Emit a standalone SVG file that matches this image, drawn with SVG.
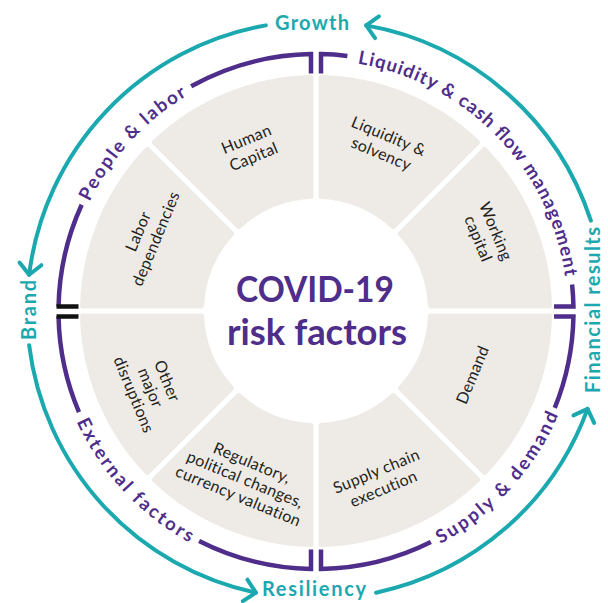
<svg xmlns="http://www.w3.org/2000/svg" xmlns:xlink="http://www.w3.org/1999/xlink" width="608" height="603" viewBox="0 0 608 603">
<style>
.seg{fill:#EEEBE7;stroke:#EEEBE7;stroke-width:5;stroke-linejoin:round}
.lbl{font-family:Lato,"Open Sans",sans-serif;font-size:16px;font-weight:400;fill:#231F20;text-anchor:middle;letter-spacing:0.3px}
.pur{fill:none;stroke:#4F2D8B;stroke-width:4.5;stroke-linecap:butt}
.blk{fill:none;stroke:#111;stroke-width:4.5}
.ptxt{font-family:Lato,"Open Sans",sans-serif;font-size:18.5px;font-weight:700;fill:#4F2D8B}
.teal{fill:none;stroke:#1BA9AF;stroke-width:4;stroke-linecap:round}
.ttxt{font-family:Lato,"Open Sans",sans-serif;font-size:20px;font-weight:700;fill:#1BA9AF;text-anchor:middle}
.ctr{font-family:Lato,"Open Sans",sans-serif;font-size:36px;font-weight:700;fill:#4F2D8B;text-anchor:middle}
</style>
<defs>
<path id="seg" d="M5,-233.45 A233.5,233.5 0 0 1 161.54,-168.61 L77.35,-84.42 A114.5,114.5 0 0 0 5,-114.39 Z"/>
<marker id="ah" viewBox="-16 -14 20 28" markerWidth="20" markerHeight="28" refX="0" refY="0" orient="auto" markerUnits="userSpaceOnUse">
<path d="M-11,-11 L0,0 L-11,11" fill="none" stroke="#1BA9AF" stroke-width="4" stroke-linecap="round" stroke-linejoin="round"/>
</marker>
<path id="tp-people" d="M79.67,225.48 A251.5,251.5 0 0 1 209.71,83.56"/>
<path id="tp-liq" d="M353.17,62.76 A251.5,251.5 0 0 1 565.63,280.85"/>
<path id="tp-supply" d="M435.63,546.28 A263.5,263.5 0 0 0 560.31,410.21"/>
<path id="tp-ext" d="M73.45,414.46 A263.5,263.5 0 0 0 196.37,546.28"/>
</defs>

<g id="liquidity-solvency">
<use xlink:href="#seg" class="seg" transform="translate(316 311) rotate(0)"/>
<text class="lbl" transform="translate(385 145) rotate(22.5)"><tspan x="0" y="-4">Liquidity &amp;</tspan><tspan x="0" y="15">solvency</tspan></text>
</g>
<g id="working-capital">
<use xlink:href="#seg" class="seg" transform="translate(316 311) rotate(45)"/>
<text class="lbl" transform="translate(487 235) rotate(67.5)"><tspan x="0" y="-4">Working</tspan><tspan x="0" y="15">capital</tspan></text>
</g>
<g id="demand">
<use xlink:href="#seg" class="seg" transform="translate(316 311) rotate(90)"/>
<text class="lbl" transform="translate(473 375) rotate(-67.5)"><tspan x="0" y="5">Demand</tspan></text>
</g>
<g id="supply-chain">
<use xlink:href="#seg" class="seg" transform="translate(316 311) rotate(135)"/>
<text class="lbl" transform="translate(380 480) rotate(-22.5)"><tspan x="0" y="-4">Supply chain</tspan><tspan x="0" y="15">execution</tspan></text>
</g>
<g id="regulatory">
<use xlink:href="#seg" class="seg" transform="translate(316 311) rotate(180)"/>
<text class="lbl" transform="translate(245 480) rotate(22.5)"><tspan x="0" y="-13">Regulatory,</tspan><tspan x="0" y="5">political changes,</tspan><tspan x="0" y="23">currency valuation</tspan></text>
</g>
<g id="other-disruptions">
<use xlink:href="#seg" class="seg" transform="translate(316 311) rotate(225)"/>
<text class="lbl" transform="translate(150 388) rotate(67.5)"><tspan x="0" y="-13">Other</tspan><tspan x="0" y="5">major</tspan><tspan x="0" y="23">disruptions</tspan></text>
</g>
<g id="labor-dependencies">
<use xlink:href="#seg" class="seg" transform="translate(316 311) rotate(270)"/>
<text class="lbl" transform="translate(147 235) rotate(-67.5)"><tspan x="0" y="-4">Labor</tspan><tspan x="0" y="15">dependencies</tspan></text>
</g>
<g id="human-capital">
<use xlink:href="#seg" class="seg" transform="translate(316 311) rotate(315)"/>
<text class="lbl" transform="translate(250 148) rotate(-22.5)"><tspan x="0" y="-4">Human</tspan><tspan x="0" y="15">Capital</tspan></text>
</g>

<g id="center">
<text class="ctr" x="315" y="302" textLength="158" lengthAdjust="spacingAndGlyphs">COVID-19</text>
<text class="ctr" x="317" y="345" textLength="180" lengthAdjust="spacingAndGlyphs">risk factors</text>
</g>

<g id="people-labor">
<path class="pur" d="M311,73.55 L311,54.05 A257.5,257.5 0 0 0 191.16,86.29"/>
<path class="pur" d="M81.69,204.72 A257.5,257.5 0 0 0 58.55,306.5"/>
<path class="blk" d="M56.5,306.5 L78.5,306.5"/>
<text class="ptxt"><textPath xlink:href="#tp-people" startOffset="50%" text-anchor="middle" textLength="146" lengthAdjust="spacing">People &amp; labor</textPath></text>
</g>
<g id="liquidity-cash-flow">
<path class="pur" d="M321,73.55 L321,54.05 A257.5,257.5 0 0 1 347.38,55.92"/>
<path class="pur" d="M572.09,284.58 A257.5,257.5 0 0 1 573.45,306.5 L554.05,306.5"/>
<text class="ptxt"><textPath xlink:href="#tp-liq" startOffset="50%" text-anchor="middle" textLength="318" lengthAdjust="spacing">Liquidity &amp; cash flow management</textPath></text>
</g>
<g id="supply-demand">
<path class="pur" d="M554.05,316.5 L573.45,316.5 A257.5,257.5 0 0 1 554.75,407.96"/>
<path class="pur" d="M430.90,541.94 A257.5,257.5 0 0 1 321,568.95 L321,549.45"/>
<text class="ptxt"><textPath xlink:href="#tp-supply" startOffset="50%" text-anchor="middle" textLength="178" lengthAdjust="spacing">Supply &amp; demand</textPath></text>
</g>
<g id="external-factors">
<path class="pur" d="M311,549.45 L311,568.95 A257.5,257.5 0 0 1 199.10,540.94"/>
<path class="pur" d="M78.97,412.11 A257.5,257.5 0 0 1 58.55,316.5"/>
<path class="blk" d="M56.5,316.5 L78.5,316.5"/>
<text class="ptxt"><textPath xlink:href="#tp-ext" startOffset="50%" text-anchor="middle" textLength="168" lengthAdjust="spacing">External factors</textPath></text>
</g>

<g id="growth"><text class="ttxt" x="312" y="30" textLength="74" lengthAdjust="spacing">Growth</text></g>
<g id="brand"><text class="ttxt" transform="translate(36 310) rotate(-90)" textLength="60" lengthAdjust="spacing">Brand</text></g>
<g id="resiliency"><text class="ttxt" x="314" y="596" textLength="104" lengthAdjust="spacing">Resiliency</text></g>
<g id="financial-results"><text class="ttxt" transform="translate(600 310) rotate(-90)" textLength="166" lengthAdjust="spacing">Financial results</text></g>

<g id="connectors">
<path class="teal" marker-end="url(#ah)" d="M590.86,220.69 A289,289 0 0 0 366.18,25.39"/>
<path class="teal" marker-end="url(#ah)" d="M265.82,25.39 A289,289 0 0 0 29.15,274.78"/>
<path class="teal" marker-end="url(#ah)" d="M29.15,345.22 A289,289 0 0 0 255.91,592.69"/>
<path class="teal" marker-end="url(#ah)" d="M376.09,592.69 A289,289 0 0 0 587.57,408.84"/>
</g>
</svg>
